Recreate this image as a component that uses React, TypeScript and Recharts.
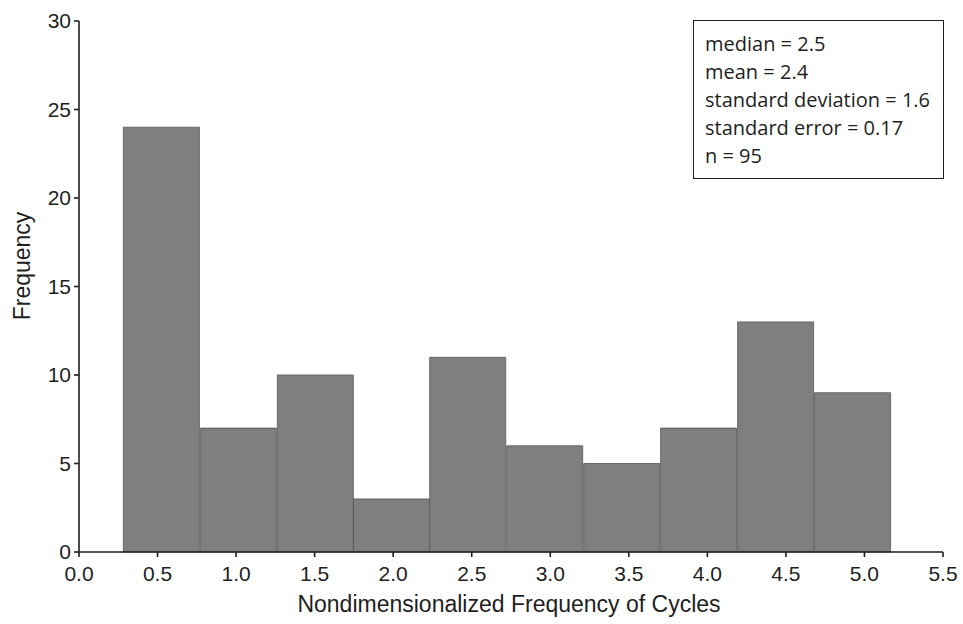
import { BarChart, Bar, XAxis, YAxis, Label } from 'recharts';

// histogram bin edges and counts per bin
const BIN_EDGES = [0.28, 0.77, 1.26, 1.75, 2.23, 2.72, 3.21, 3.7, 4.19, 4.68, 5.17];
const COUNTS = [24, 7, 10, 3, 11, 6, 5, 7, 13, 9];
const X_TICKS = [0, 0.5, 1, 1.5, 2, 2.5, 3, 3.5, 4, 4.5, 5, 5.5];
const Y_TICKS = [0, 5, 10, 15, 20, 25, 30];
const STATS = [
  'median = 2.5',
  'mean = 2.4',
  'standard deviation = 1.6',
  'standard error = 0.17',
  'n = 95',
];

const W = 963;
const H = 624;
const FONT = '"Liberation Sans", Arial, sans-serif';
const INK = '#1e1e1e';
const AXIS_LINE = { stroke: INK, strokeWidth: 1.6 };
const TICK = { fill: INK, fontSize: 21, fontFamily: FONT };

const data = COUNTS.map((count, i) => ({
  x: (BIN_EDGES[i] + BIN_EDGES[i + 1]) / 2,
  count,
}));

export default function App() {
  return (
    <div style={{ position: 'absolute', left: 0, top: 0, width: W, height: H, background: '#fff' }}>
      <BarChart
        width={W}
        height={H}
        data={data}
        margin={{ top: 21, right: 20, bottom: 0, left: 0 }}
        barCategoryGap={0}
        barGap={0}
      >
        <XAxis
          dataKey="x"
          type="number"
          domain={[0, 5.5]}
          ticks={X_TICKS}
          tickFormatter={(v: number) => v.toFixed(1)}
          interval={0}
          height={72}
          axisLine={AXIS_LINE}
          tickLine={AXIS_LINE}
          tickSize={5}
          tickMargin={9}
          tick={TICK}
        >
          <Label
            content={({ viewBox }: any) => (
              <text
                x={viewBox.x + viewBox.width / 2 - 2}
                y={viewBox.y + 60}
                textAnchor="middle"
                fill={INK}
                fontSize={23}
                fontFamily={FONT}
              >
                Nondimensionalized Frequency of Cycles
              </text>
            )}
          />
        </XAxis>
        <XAxis
          xAxisId="top"
          orientation="top"
          type="number"
          domain={[0, 5.5]}
          height={0}
          tick={false}
          tickLine={false}
          axisLine={AXIS_LINE}
        />
        <YAxis
          type="number"
          domain={[0, 30]}
          ticks={Y_TICKS}
          interval={0}
          width={79}
          axisLine={AXIS_LINE}
          tickLine={AXIS_LINE}
          tickSize={5}
          tickMargin={3}
          tick={TICK}
        >
          <Label
            content={() => (
              <text
                x={30}
                y={266}
                transform="rotate(-90, 30, 266)"
                textAnchor="middle"
                fill={INK}
                fontSize={23}
                fontFamily={FONT}
              >
                Frequency
              </text>
            )}
          />
        </YAxis>
        <YAxis
          yAxisId="right"
          orientation="right"
          domain={[0, 30]}
          width={0}
          tick={false}
          tickLine={false}
          axisLine={AXIS_LINE}
        />
        <Bar
          dataKey="count"
          fill="#7f7f7f"
          stroke="#555"
          strokeWidth={0.8}
          isAnimationActive={false}
        />
      </BarChart>
      <div
        style={{
          position: 'absolute',
          left: 693,
          top: 20,
          width: 251,
          height: 159,
          boxSizing: 'border-box',
          border: `1.6px solid ${INK}`,
          background: '#fff',
          padding: '9px 0 0 11px',
          fontFamily: '"Open Sans", sans-serif',
          fontSize: 20,
          lineHeight: '28px',
          color: INK,
        }}
      >
        {STATS.map((s) => (
          <div key={s} style={{ whiteSpace: 'nowrap' }}>
            {s}
          </div>
        ))}
      </div>
    </div>
  );
}
